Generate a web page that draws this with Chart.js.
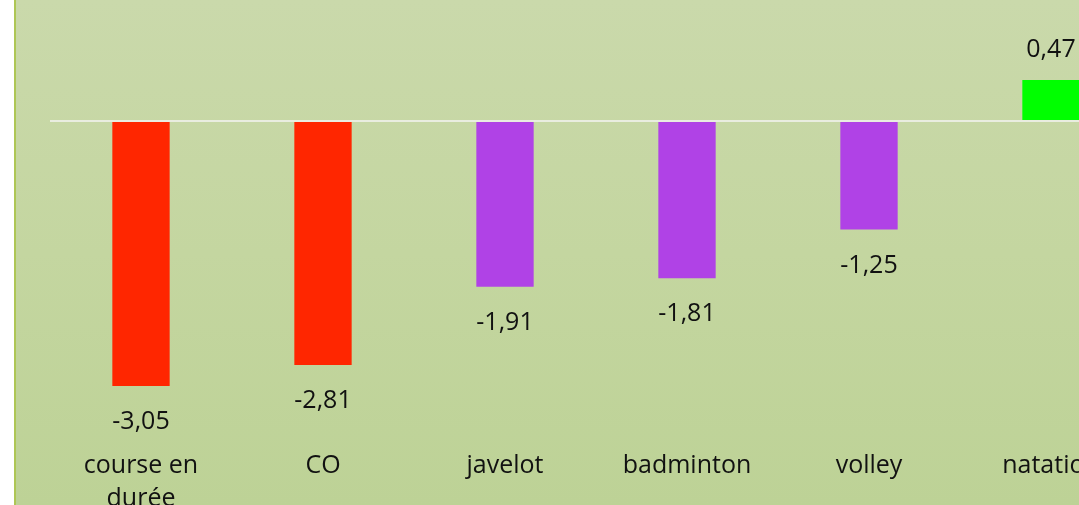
<!DOCTYPE html>
<html>
<head>
<meta charset="utf-8">
<script src="https://cdn.jsdelivr.net/npm/chart.js@4"></script>
<style>
  html, body { margin: 0; padding: 0; background: #fff; overflow: hidden; }
  #wrap { position: absolute; left: 0; top: 0; width: 1079px; height: 505px; overflow: hidden; }
  #bg { position: absolute; left: 14px; top: 0; width: 1200px; height: 505px;
        border-left: 2px solid #aec655;
        background: linear-gradient(to bottom, #cad9ab 0%, #c4d6a0 50%, #bdd296 100%); }
  #myChart { position: absolute; left: 0; top: 0; }
</style>
</head>
<body>
<div id="wrap">
  <div id="bg"></div>
  <canvas id="myChart" width="1160" height="535"></canvas>
</div>
<script>
const labels = [['course en', 'durée'], 'CO', 'javelot', 'badminton', 'volley', 'natation'];
const values = [-3.05, -2.81, -1.91, -1.81, -1.25, 0.47];
const barColors = ['#ff2600', '#ff2600', '#b042e6', '#b042e6', '#b042e6', '#00ff00'];

// value labels under negative bars, over positive ones
const valueLabels = {
    id: 'valueLabels',
    afterDatasetsDraw(chart) {
        const ctx = chart.ctx;
        const meta = chart.getDatasetMeta(0);
        ctx.save();
        ctx.font = '25px "Open Sans"';
        ctx.fillStyle = '#111';
        ctx.textAlign = 'center';
        ctx.textBaseline = 'middle';
        meta.data.forEach((bar, i) => {
            const v = values[i];
            const txt = v.toFixed(2).replace('.', ',');
            const y = v < 0 ? bar.y + 36 : bar.y - 30;
            ctx.fillText(txt, bar.x, y);
        });
        ctx.restore();
    }
};

const data = {
    labels: labels,
    datasets: [{
        data: values,
        backgroundColor: barColors,
        borderWidth: 0,
        categoryPercentage: 1,
        barPercentage: 0.315
    }]
};

const config = {
    type: 'bar',
    data,
    options: {
        responsive: false,
        devicePixelRatio: 1,
        animation: false,
        layout: { padding: { left: 50, right: 18, top: 34, bottom: 4 } },
        plugins: { legend: { display: false }, tooltip: { enabled: false } },
        scales: {
            x: {
                grid: { display: false },
                border: { display: false },
                ticks: {
                    color: '#111',
                    padding: 16,
                    maxRotation: 0,
                    autoSkip: false,
                    font: { family: 'Open Sans', size: 25, lineHeight: 1.32 }
                }
            },
            y: {
                min: -3.5,
                max: 1,
                display: true,
                border: { display: false },
                ticks: { display: false, stepSize: 0.5 },
                grid: {
                    drawTicks: false,
                    lineWidth: 2,
                    color: (c) => c.tick && c.tick.value === 0 ? '#e9ede0' : 'rgba(0,0,0,0)'
                }
            }
        }
    },
    plugins: [valueLabels]
};

const myChart = new Chart(
    document.getElementById('myChart'),
    config
);
</script>
</body>
</html>
